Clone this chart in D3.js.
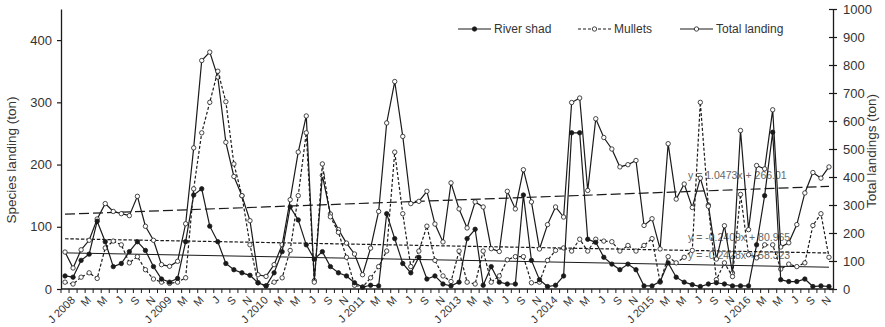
<!DOCTYPE html>
<html>
<head>
<meta charset="utf-8">
<script src="https://cdn.jsdelivr.net/npm/d3@7"></script>
<style>
  body { margin: 0; background: #fff; }
  svg text { font-family: "Liberation Sans", Arial, sans-serif; }
</style>
</head>
<body>
<script>
// monthly landings, Jan 2008 - Dec 2016 (2012 not in the record)
const years = [2008, 2009, 2010, 2011, 2013, 2014, 2015, 2016]
const monthLetters = ['J', 'F', 'M', 'A', 'M', 'J', 'J', 'A', 'S', 'O', 'N', 'D']

const riverShad = [
  21, 19, 46, 56, 109, 76, 36, 41, 60, 76, 62, 36,
  16, 11, 17, 76, 151, 161, 101, 76, 41, 31, 26, 22,
  10, 5, 26, 60, 132, 111, 71, 48, 60, 36, 26, 21,
  10, 3, 6, 5, 121, 81, 41, 26, 51, 16, 21, 8,
  5, 11, 81, 96, 6, 36, 11, 8, 8, 151, 46, 15,
  4, 6, 21, 251, 251, 80, 75, 51, 40, 31, 40, 31,
  5, 5, 12, 42, 19, 11, 7, 4, 8, 10, 8, 5,
  5, 5, 71, 150, 252, 15, 12, 12, 16, 4, 5, 4
]
const mullets = [
  11, 8, 19, 26, 17, 66, 77, 71, 42, 52, 31, 16,
  11, 9, 11, 18, 161, 251, 300, 350, 301, 201, 150, 71,
  10, 5, 11, 18, 62, 150, 251, 11, 201, 116, 91, 51,
  6, 3, 18, 36, 61, 220, 121, 36, 61, 101, 46, 21,
  12, 61, 11, 8, 61, 11, 21, 47, 52, 52, 10, 11,
  46, 62, 66, 61, 80, 61, 80, 77, 76, 61, 70, 61,
  70, 81, 11, 52, 42, 51, 62, 300, 133, 15, 42, 20,
  152, 55, 50, 71, 71, 32, 40, 36, 42, 102, 121, 51
]
const totalLanding = [
  132, 75, 140, 174, 250, 305, 277, 269, 262, 331, 224, 174,
  87, 81, 99, 233, 504, 816, 846, 757, 524, 402, 333, 244,
  51, 45, 87, 158, 319, 489, 618, 30, 406, 268, 212, 164,
  125, 51, 146, 277, 593, 741, 545, 305, 313, 349, 232, 168,
  379, 286, 218, 311, 293, 144, 134, 349, 286, 426, 311, 143,
  230, 293, 257, 666, 682, 352, 608, 541, 500, 436, 444, 459,
  227, 251, 143, 519, 321, 375, 291, 396, 300, 107, 226, 57,
  566, 212, 441, 429, 640, 150, 165, 230, 343, 416, 396, 436
]

// linear trends as printed on the chart: [slope, intercept], x = 1..96
const trendTotal = [1.0473, 266.01]
const trendMullets = [-0.2409, 80.965]
const trendShad = [-0.2428, 58.323]
const trendLabels = ['y = 1.0473x + 266.01', 'y = -0.2409x + 80.965', 'y = -0.2428x + 58.323']

const leftTicks = [0, 100, 200, 300, 400]
const rightTicks = [0, 100, 200, 300, 400, 500, 600, 700, 800, 900, 1000]

const categories = []
years.forEach(function(y) {
  monthLetters.forEach(function(m, k) { categories.push(y + '-' + (k + 1)) })
})
function tickLabel(c) {
  const parts = c.split('-')
  const k = +parts[1] - 1
  return k === 0 ? 'J ' + parts[0] : monthLetters[k]
}

const m = { width: 885, height: 327, left: 61, right: 833, top: 9, bottom: 289 }
const ink = '#1a1a1a'

const svg = d3.select('body').append('svg')
  .attr('width', m.width)
  .attr('height', m.height)

const x = d3.scaleBand().domain(categories).range([m.left, m.right]).padding(0)
const cx = function(i) { return x(categories[i]) + x.bandwidth() / 2 }
const yL = d3.scaleLinear().domain([0, 450]).range([m.bottom, m.top])
const yR = d3.scaleLinear().domain([0, 1000]).range([m.bottom, m.top])

// axes
const gl = svg.append('g').attr('transform', 'translate(' + m.left + ',0)')
  .call(d3.axisLeft(yL).tickValues(leftTicks).tickFormat(d3.format('d'))
    .tickSize(4).tickSizeOuter(0).tickPadding(5))
gl.selectAll('text').attr('font-size', 13).attr('fill', '#333')

const gr = svg.append('g').attr('transform', 'translate(' + m.right + ',0)')
  .call(d3.axisRight(yR).tickValues(rightTicks).tickFormat(d3.format('d'))
    .tickSize(4).tickSizeOuter(0).tickPadding(6))
gr.selectAll('.tick line').attr('x1', -4)
gr.selectAll('text').attr('font-size', 13).attr('fill', '#333')

;[gl, gr].forEach(function(g) {
  g.select('.domain').attr('stroke', ink).attr('stroke-width', 1.3)
  g.selectAll('.tick line').attr('stroke', ink).attr('stroke-width', 1.2)
})

// category axis: tick marks between months, labels every second month
const gx = svg.append('g')
gx.append('line')
  .attr('x1', m.left).attr('x2', m.right)
  .attr('y1', m.bottom).attr('y2', m.bottom)
  .attr('stroke', ink).attr('stroke-width', 1.3)
gx.selectAll('.xt')
  .data(categories.concat(['end']))
  .enter()
  .append('line')
    .attr('class', 'xt')
    .attr('x1', function(d) { return d === 'end' ? m.right : x(d) })
    .attr('x2', function(d) { return d === 'end' ? m.right : x(d) })
    .attr('y1', m.bottom).attr('y2', m.bottom + 4)
    .attr('stroke', ink).attr('stroke-width', 1)
gx.selectAll('.xl')
  .data(categories.filter(function(d, i) { return i % 2 === 0 }))
  .enter()
  .append('text')
    .attr('class', 'xl')
    .attr('transform', function(d) {
      return 'translate(' + (x(d) + x.bandwidth() / 2 + 8) + ',' + (m.bottom + 9) + ') rotate(-45)'
    })
    .attr('text-anchor', 'end')
    .attr('dy', '0.35em')
    .attr('font-size', 11)
    .attr('fill', '#333')
    .text(tickLabel)

// axis titles
svg.append('text')
  .attr('transform', 'translate(16,160) rotate(-90)')
  .attr('text-anchor', 'middle')
  .attr('font-size', 13.5).attr('fill', '#333')
  .text('Species landing (ton)')
svg.append('text')
  .attr('transform', 'translate(876,151) rotate(-90)')
  .attr('text-anchor', 'middle')
  .attr('font-size', 13.5).attr('fill', '#333')
  .text('Total landings (ton)')

// trend lines
const n = categories.length
function trendLine(coef, scale, dash, width) {
  svg.append('line')
    .attr('x1', cx(0)).attr('x2', cx(n - 1))
    .attr('y1', scale(coef[0] * 1 + coef[1]))
    .attr('y2', scale(coef[0] * n + coef[1]))
    .attr('stroke', ink).attr('stroke-width', width)
    .attr('stroke-dasharray', dash)
}
trendLine(trendTotal, yR, '10,4', 1.2)
trendLine(trendMullets, yL, '3.5,1.8', 1.2)
trendLine(trendShad, yL, null, 1)

const labelY = [179, 241, 259]
svg.selectAll('.eq')
  .data(trendLabels)
  .enter()
  .append('text')
    .attr('class', 'eq')
    .attr('x', 688)
    .attr('y', function(d, i) { return labelY[i] })
    .attr('font-size', 10.5)
    .attr('fill', '#666')
    .text(function(d) { return d })

// series
function drawSeries(values, scale, dash, filled) {
  const line = d3.line()
    .x(function(d, i) { return cx(i) })
    .y(function(d) { return scale(d) })
  svg.append('path')
    .datum(values)
    .attr('d', line)
    .attr('fill', 'none')
    .attr('stroke', ink)
    .attr('stroke-width', 1.2)
    .attr('stroke-dasharray', dash)
  svg.append('g').selectAll('circle')
    .data(values)
    .enter()
    .append('circle')
      .attr('cx', function(d, i) { return cx(i) })
      .attr('cy', function(d) { return scale(d) })
      .attr('r', 2.2)
      .attr('fill', filled ? ink : '#fff')
      .attr('stroke', ink)
      .attr('stroke-width', 0.8)
}
drawSeries(totalLanding, yR, null, false)
drawSeries(mullets, yL, '3,2', false)
drawSeries(riverShad, yL, null, true)

// legend
const legend = [
  { name: 'River shad', x: 458, dash: null, filled: true },
  { name: 'Mullets', x: 578, dash: '3,2', filled: false },
  { name: 'Total landing', x: 680, dash: null, filled: false }
]
const lg = svg.selectAll('.lg').data(legend).enter().append('g')
  .attr('transform', function(d) { return 'translate(' + d.x + ',29)' })
lg.append('line')
  .attr('x1', 0).attr('x2', 33)
  .attr('stroke', ink).attr('stroke-width', 1.2)
  .attr('stroke-dasharray', function(d) { return d.dash })
lg.append('circle')
  .attr('cx', 16.5).attr('r', 2.2)
  .attr('fill', function(d) { return d.filled ? ink : '#fff' })
  .attr('stroke', ink).attr('stroke-width', 0.8)
lg.append('text')
  .attr('x', 36).attr('dy', '0.35em')
  .attr('font-size', 12).attr('fill', '#333')
  .text(function(d) { return d.name })
</script>
</body>
</html>
